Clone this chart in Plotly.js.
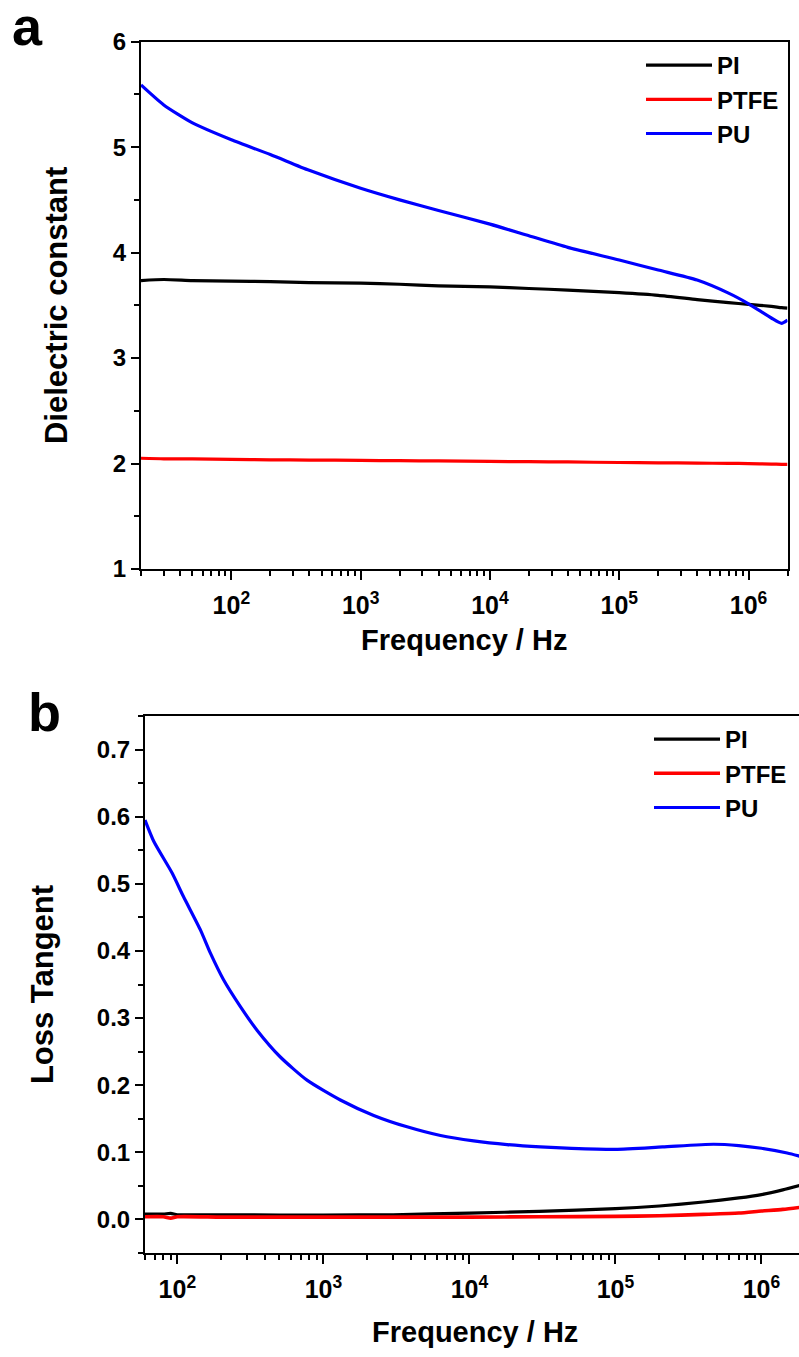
<!DOCTYPE html>
<html><head><meta charset="utf-8">
<script src="https://cdn.plot.ly/plotly-3.0.1.min.js"></script>
<style>html,body{margin:0;padding:0;overflow:hidden;background:#fff}#chart{width:810px;height:1357px}</style>
</head><body><div id="chart"></div>
<script>
// ---------- Panel a: dielectric constant ----------
const freqA = [20, 30, 50, 100, 200, 400, 1000, 2000, 4000, 1e4, 2e4, 4e4, 1e5, 2e5, 4e5, 7e5, 1e6, 1.5e6, 1.8e6, 2e6];
const dielPI = [3.735, 3.745, 3.735, 3.73, 3.725, 3.716, 3.71, 3.70, 3.685, 3.675, 3.66, 3.645, 3.62, 3.595, 3.555, 3.525, 3.51, 3.49, 3.478, 3.473];
const dielPTFE = [2.05, 2.045, 2.045, 2.04, 2.035, 2.033, 2.03, 2.027, 2.025, 2.02, 2.018, 2.015, 2.01, 2.007, 2.004, 2.001, 2.0, 1.995, 1.993, 1.993];
const dielPU = [5.59, 5.40, 5.23, 5.07, 4.93, 4.78, 4.61, 4.50, 4.40, 4.27, 4.16, 4.05, 3.93, 3.835, 3.74, 3.616, 3.515, 3.38, 3.33, 3.36];

// ---------- Panel b: loss tangent ----------
const freqBPU = [60, 69, 92, 110, 144, 168, 207, 270, 351, 507, 772, 1306, 2210, 3740, 6340, 10700, 18100, 30600, 5e4, 1e5, 2.1e5, 4.7e5, 7e5, 1e6, 1.5e6, 2e6];
const lossPU = [0.595, 0.563, 0.516, 0.481, 0.431, 0.397, 0.357, 0.317, 0.282, 0.242, 0.2075, 0.178, 0.155, 0.138, 0.125, 0.117, 0.1115, 0.108, 0.106, 0.1045, 0.108, 0.112, 0.110, 0.106, 0.099, 0.092];
const freqB = [60, 80, 90, 100, 200, 500, 1000, 3000, 1e4, 3e4, 1e5, 2e5, 4e5, 7e5, 1e6, 1.4e6, 2e6];
const lossPI = [0.008, 0.008, 0.009, 0.007, 0.007, 0.0065, 0.0065, 0.007, 0.0095, 0.012, 0.016, 0.020, 0.026, 0.032, 0.037, 0.044, 0.053];
const lossPTFE = [0.004, 0.004, 0.002, 0.004, 0.0035, 0.0035, 0.0035, 0.0035, 0.0035, 0.004, 0.0045, 0.0055, 0.0075, 0.0095, 0.0125, 0.015, 0.019];

// ---------- Labels ----------
const seriesNames = ['PI', 'PTFE', 'PU'];
const seriesColors = ['#000000', '#ff0000', '#0000ff'];
const xTickVals = [1e2, 1e3, 1e4, 1e5, 1e6];
const xTickText = ['10<sup>2</sup>', '10<sup>3</sup>', '10<sup>4</sup>', '10<sup>5</sup>', '10<sup>6</sup>'];
const xTitle = 'Frequency / Hz';
const yTitleA = 'Dielectric constant';
const yTitleB = 'Loss Tangent';

const minorVals = [];
for (let e = 1; e <= 6; e++) for (let m = 2; m <= 9; m++) minorVals.push(m * Math.pow(10, e));

const W = 810, H = 1357;
const FONT = 'Liberation Sans, Arial, Helvetica, sans-serif';
const fx = v => v / W, fy = v => 1 - v / H;

const lineStyle = (c, w) => ({color: c, width: w, shape: 'spline', smoothing: 0.6});
const traces = [
  {x: freqA, y: dielPI, name: seriesNames[0], line: lineStyle(seriesColors[0], 3.2), xaxis: 'x', yaxis: 'y', legend: 'legend'},
  {x: freqA, y: dielPTFE, name: seriesNames[1], line: lineStyle(seriesColors[1], 3.2), xaxis: 'x', yaxis: 'y', legend: 'legend'},
  {x: freqA, y: dielPU, name: seriesNames[2], line: lineStyle(seriesColors[2], 3.2), xaxis: 'x', yaxis: 'y', legend: 'legend'},
  {x: freqB, y: lossPI, name: seriesNames[0], line: lineStyle(seriesColors[0], 3.2), xaxis: 'x2', yaxis: 'y2', legend: 'legend2'},
  {x: freqB, y: lossPTFE, name: seriesNames[1], line: lineStyle(seriesColors[1], 3.6), xaxis: 'x2', yaxis: 'y2', legend: 'legend2'},
  {x: freqBPU, y: lossPU, name: seriesNames[2], line: lineStyle(seriesColors[2], 3.2), xaxis: 'x2', yaxis: 'y2', legend: 'legend2'}
].map(t => Object.assign({type: 'scatter', mode: 'lines', hoverinfo: 'skip'}, t));

const xTickFont = {family: FONT, size: 25, color: '#000', weight: 700};
const yTickFont = {family: FONT, size: 24, color: '#000', weight: 700};
const titleFont = {family: FONT, size: 31, color: '#000', weight: 700};

function xAxis(domain, range, anchor, standoff) {
  return {
    type: 'log', domain: domain, range: range, anchor: anchor,
    tickmode: 'array', tickvals: xTickVals, ticktext: xTickText,
    ticks: 'outside', ticklen: 9, tickwidth: 2, tickcolor: '#000', ticklabelstandoff: 4,
    minor: {tickmode: 'array', tickvals: minorVals, ticks: 'outside', ticklen: 5, tickwidth: 2, tickcolor: '#000', showgrid: false},
    showline: true, linewidth: 2, linecolor: '#000', mirror: true,
    showgrid: false, zeroline: false, tickfont: xTickFont, automargin: false,
    title: {text: xTitle, font: {family: FONT, size: 29, color: '#000', weight: 700}, standoff: standoff}
  };
}
function yAxis(domain, range, dtick, minorD, fmt, title, anchor, standoff) {
  return {
    domain: domain, range: range, anchor: anchor, tick0: 0, dtick: dtick, tickformat: fmt,
    ticks: 'outside', ticklen: 8, tickwidth: 2, tickcolor: '#000',
    minor: {dtick: minorD, tick0: 0, ticks: 'outside', ticklen: 5, tickwidth: 2, tickcolor: '#000', showgrid: false},
    showline: true, linewidth: 2, linecolor: '#000', mirror: true,
    showgrid: false, zeroline: false, tickfont: yTickFont, automargin: false,
    title: {text: title, font: titleFont, standoff: standoff}
  };
}

const legendBase = {
  bgcolor: 'rgba(0,0,0,0)', borderwidth: 0, itemwidth: 66, tracegroupgap: 0,
  font: {family: FONT, size: 24, color: '#000', weight: 700},
  xanchor: 'left', yanchor: 'top', itemclick: false, itemdoubleclick: false
};

const layout = {
  width: W, height: H, margin: {l: 0, r: 0, t: 0, b: 0},
  paper_bgcolor: '#fff', plot_bgcolor: '#fff', showlegend: true,
  font: {family: FONT, color: '#000'},
  xaxis: xAxis([fx(141), fx(787.5)], [Math.log10(20), Math.log10(2e6)], 'y', 12),
  yaxis: yAxis([fy(569), fy(41.7)], [1, 6], 1, 0.5, '', yTitleA, 'x', 36),
  xaxis2: xAxis([fx(145), fx(805.4)], [Math.log10(60), Math.log10(2e6)], 'y2', 20),
  yaxis2: yAxis([fy(1253), fy(716)], [-0.05, 0.75], 0.1, 0.05, '.1f', yTitleB, 'x2', 34),
  legend: Object.assign({}, legendBase, {x: fx(641), y: fy(43)}),
  legend2: Object.assign({}, legendBase, {x: fx(649), y: fy(717)}),
  annotations: [
    {text: 'a', xref: 'paper', yref: 'paper', x: fx(10), y: fy(58), xanchor: 'left', yanchor: 'bottom', showarrow: false,
     font: {family: FONT, size: 54, color: '#000', weight: 700}},
    {text: 'b', xref: 'paper', yref: 'paper', x: fx(26), y: fy(744), xanchor: 'left', yanchor: 'bottom', showarrow: false,
     font: {family: FONT, size: 54, color: '#000', weight: 700}}
  ]
};

Plotly.newPlot('chart', traces, layout, {staticPlot: true, displayModeBar: false});
</script></body></html>
